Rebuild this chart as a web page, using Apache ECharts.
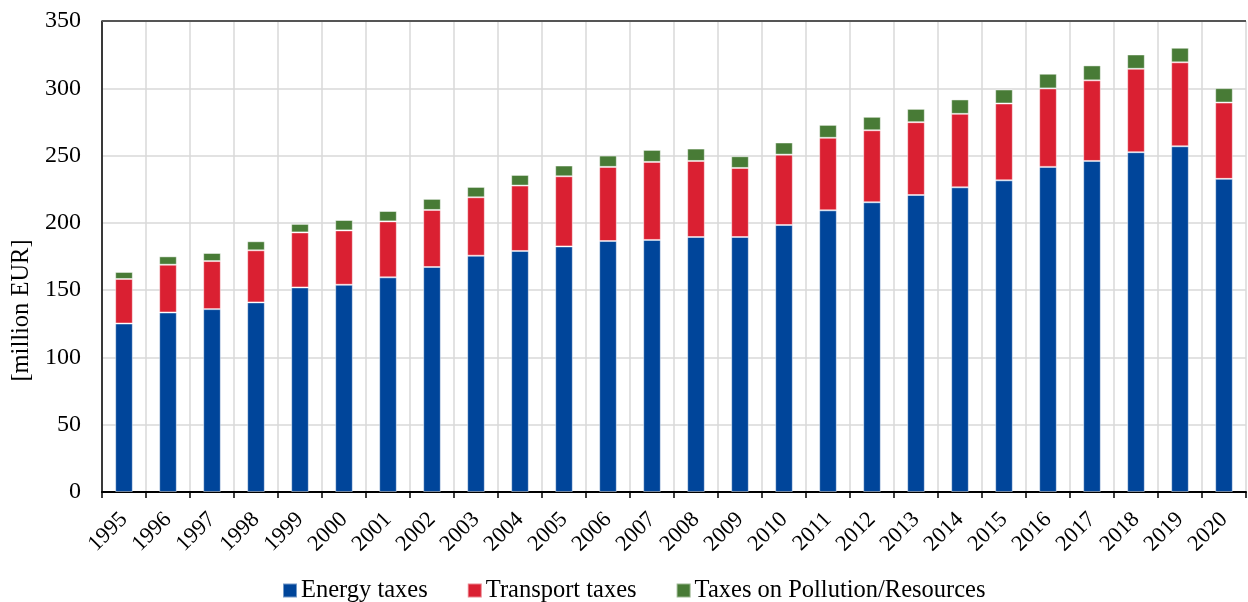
<!DOCTYPE html>
<html><head><meta charset="utf-8">
<script src="https://cdn.jsdelivr.net/npm/echarts@6/dist/echarts.min.js"></script>
<style>html,body{margin:0;padding:0;background:#fff}#c{width:1248px;height:602px}</style>
</head><body><div id="c"></div>
<script>
const years = ['1995','1996','1997','1998','1999','2000','2001','2002','2003','2004','2005','2006','2007','2008','2009','2010','2011','2012','2013','2014','2015','2016','2017','2018','2019','2020'];
const energyTaxes = [125.2,133.4,135.9,140.9,152.0,154.0,159.5,167.2,175.6,179.1,182.5,186.5,187.3,189.5,189.5,198.4,209.3,215.3,220.7,226.4,231.6,241.6,246.0,252.5,256.9,232.7];
const transportTaxes = [33.1,35.5,35.7,38.7,40.9,40.4,41.6,42.4,43.4,48.6,52.1,55.1,58.0,56.5,51.3,52.3,53.9,53.5,54.1,54.6,57.1,58.3,59.9,62.0,62.4,56.7];
const pollutionTaxes = [5.2,6.2,6.0,6.7,6.3,7.7,7.7,8.2,7.7,7.9,8.0,8.4,8.9,9.2,8.7,9.0,9.6,10.0,9.9,10.7,10.4,10.9,11.1,10.6,10.8,10.7];
const seriesNames = ['Energy taxes','Transport taxes','Taxes on Pollution/Resources'];
const colors = ['#00459A','#DA2032','#487B36'];

const font = 'Liberation Serif, Times New Roman, serif';
const chart = echarts.init(document.getElementById('c'), null, {renderer:'canvas'});
const mk = (name, data, color) => ({
  name, type:'bar', stack:'total', data, barWidth:'40%',
  itemStyle:{color, borderColor:'rgba(255,255,255,0.45)', borderWidth:1},
  emphasis:{disabled:true}
});
chart.setOption({
  animation:false,
  textStyle:{fontFamily:font},
  grid:{left:102, right:2, top:21, bottom:110, containLabel:false},
  legend:{
    top:573, left:277, itemWidth:14, itemHeight:14, itemGap:39,
    icon:'rect',
    textStyle:{fontFamily:font, fontSize:24.5, color:'#000', padding:[0,0,0,-1]},
    data:seriesNames
  },
  xAxis:{
    type:'category', data:years, boundaryGap:true,
    axisLine:{lineStyle:{color:'#000', width:2}},
    axisTick:{show:true, alignWithLabel:false, length:6, lineStyle:{color:'#000', width:1.5}},
    axisLabel:{rotate:45, fontFamily:font, fontSize:22.5, color:'#000', margin:24, interval:0},
    splitLine:{show:true, lineStyle:{color:'#d9d9d9', width:1.5}}
  },
  yAxis:{
    type:'value', min:0, max:350, interval:50,
    name:'[million EUR]', nameLocation:'middle', nameGap:68, nameRotate:90,
    nameTextStyle:{fontFamily:font, fontSize:24.5, color:'#000', padding:[0,108,0,0]},
    axisLine:{show:true, lineStyle:{color:'#000', width:1.5}},
    axisTick:{show:false},
    axisLabel:{fontFamily:font, fontSize:24, color:'#000', margin:21},
    splitLine:{show:true, lineStyle:{color:'#d9d9d9', width:1.5}}
  },
  series:[
    mk(seriesNames[0], energyTaxes, colors[0]),
    mk(seriesNames[1], transportTaxes, colors[1]),
    mk(seriesNames[2], pollutionTaxes, colors[2]),
    {type:'line', data:[], markLine:{silent:true, symbol:'none', label:{show:false},
      lineStyle:{color:'#555', width:2, type:'solid'}, data:[{yAxis:350}]}}
  ]
});
</script></body></html>
